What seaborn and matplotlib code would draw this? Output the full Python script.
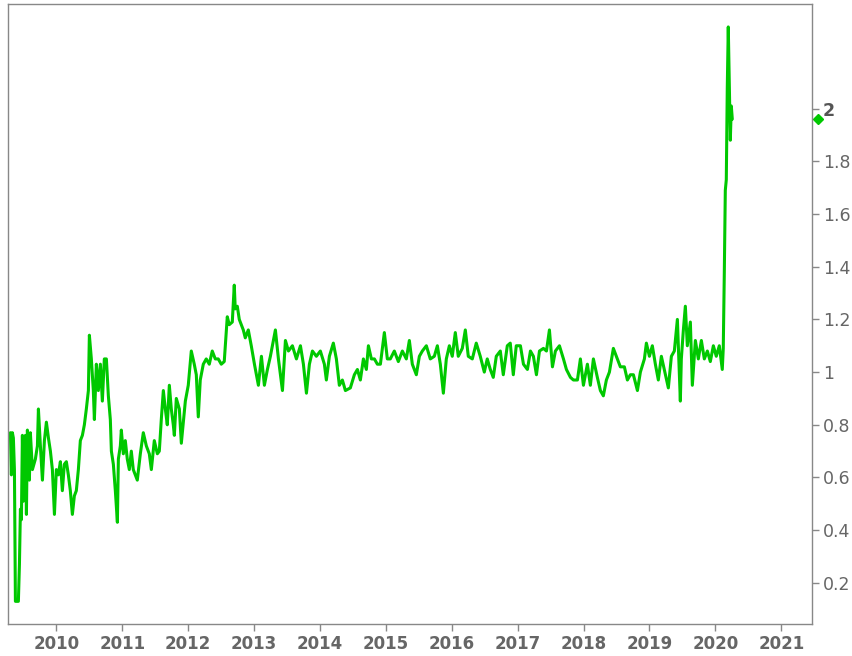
import numpy as np
import pandas as pd
import matplotlib
matplotlib.use("Agg")
import matplotlib.pyplot as plt
import matplotlib.dates as mdates
import matplotlib.transforms as mtransforms
import seaborn as sns

# decimal years and values
years = [
    2009.302, 2009.317, 2009.332, 2009.347, 2009.363, 2009.378, 2009.408, 2009.423, 2009.439, 2009.454,
    2009.469, 2009.484, 2009.499, 2009.530, 2009.545, 2009.560, 2009.590, 2009.605, 2009.636, 2009.681,
    2009.712, 2009.727, 2009.757, 2009.788, 2009.818, 2009.848, 2009.879, 2009.909, 2009.939, 2009.970,
    2010.000, 2010.030, 2010.061, 2010.091, 2010.121, 2010.152, 2010.182, 2010.212, 2010.243, 2010.273,
    2010.303, 2010.334, 2010.364, 2010.395, 2010.425, 2010.455, 2010.486, 2010.501, 2010.531, 2010.561,
    2010.577, 2010.607, 2010.637, 2010.668, 2010.698, 2010.728, 2010.759, 2010.789, 2010.819, 2010.835,
    2010.865, 2010.895, 2010.926, 2010.941, 2010.971, 2010.986, 2011.017, 2011.047, 2011.077, 2011.108,
    2011.138, 2011.168, 2011.229, 2011.275, 2011.320, 2011.366, 2011.411, 2011.442, 2011.487, 2011.533,
    2011.563, 2011.593, 2011.624, 2011.654, 2011.684, 2011.715, 2011.745, 2011.775, 2011.791, 2011.821,
    2011.867, 2011.897, 2011.958, 2012.003, 2012.049, 2012.094, 2012.125, 2012.155, 2012.185, 2012.231,
    2012.276, 2012.322, 2012.367, 2012.413, 2012.458, 2012.504, 2012.549, 2012.595, 2012.625, 2012.671,
    2012.701, 2012.716, 2012.747, 2012.777, 2012.807, 2012.838, 2012.868, 2012.914, 2012.959, 2013.005,
    2013.065, 2013.111, 2013.156, 2013.202, 2013.247, 2013.323, 2013.369, 2013.430, 2013.475, 2013.521,
    2013.581, 2013.642, 2013.703, 2013.748, 2013.794, 2013.839, 2013.885, 2013.945, 2014.006, 2014.067,
    2014.097, 2014.143, 2014.203, 2014.249, 2014.294, 2014.340, 2014.386, 2014.461, 2014.522, 2014.568,
    2014.613, 2014.659, 2014.704, 2014.735, 2014.780, 2014.826, 2014.871, 2014.917, 2014.977, 2015.023,
    2015.068, 2015.129, 2015.190, 2015.251, 2015.311, 2015.357, 2015.402, 2015.463, 2015.509, 2015.554,
    2015.615, 2015.675, 2015.736, 2015.782, 2015.827, 2015.873, 2015.918, 2015.964, 2016.009, 2016.055,
    2016.100, 2016.161, 2016.207, 2016.252, 2016.313, 2016.373, 2016.434, 2016.495, 2016.540, 2016.586,
    2016.631, 2016.677, 2016.738, 2016.783, 2016.844, 2016.889, 2016.935, 2016.980, 2017.041, 2017.087,
    2017.147, 2017.193, 2017.238, 2017.284, 2017.330, 2017.390, 2017.436, 2017.481, 2017.527, 2017.572,
    2017.633, 2017.694, 2017.739, 2017.800, 2017.845, 2017.906, 2017.951, 2017.997, 2018.058, 2018.103,
    2018.149, 2018.209, 2018.255, 2018.300, 2018.346, 2018.392, 2018.452, 2018.513, 2018.558, 2018.619,
    2018.665, 2018.710, 2018.756, 2018.817, 2018.862, 2018.923, 2018.953, 2018.999, 2019.044, 2019.090,
    2019.135, 2019.181, 2019.242, 2019.287, 2019.333, 2019.378, 2019.424, 2019.469, 2019.484, 2019.515,
    2019.545, 2019.575, 2019.621, 2019.651, 2019.697, 2019.742, 2019.788, 2019.833, 2019.879, 2019.924,
    2019.970, 2020.015, 2020.061, 2020.106, 2020.121, 2020.137, 2020.152, 2020.167, 2020.182, 2020.197,
    2020.212, 2020.228, 2020.243, 2020.258,
]
values = [
    0.77, 0.61, 0.77, 0.75, 0.63, 0.13, 0.13, 0.13, 0.27, 0.48,
    0.44, 0.76, 0.51, 0.76, 0.46, 0.78, 0.59, 0.77, 0.63, 0.67,
    0.72, 0.86, 0.72, 0.59, 0.74, 0.81, 0.75, 0.70, 0.63, 0.46,
    0.63, 0.61, 0.66, 0.55, 0.65, 0.66, 0.61, 0.55, 0.46, 0.53,
    0.55, 0.63, 0.74, 0.76, 0.80, 0.86, 0.93, 1.14, 1.05, 0.93,
    0.82, 1.03, 0.93, 1.03, 0.89, 1.05, 1.05, 0.91, 0.82, 0.70,
    0.65, 0.55, 0.43, 0.67, 0.72, 0.78, 0.69, 0.74, 0.67, 0.63,
    0.70, 0.63, 0.59, 0.69, 0.77, 0.72, 0.69, 0.63, 0.74, 0.69,
    0.70, 0.82, 0.93, 0.86, 0.80, 0.95, 0.86, 0.80, 0.76, 0.90,
    0.86, 0.73, 0.89, 0.95, 1.08, 1.03, 0.99, 0.83, 0.97, 1.03,
    1.05, 1.03, 1.08, 1.05, 1.05, 1.03, 1.04, 1.21, 1.18, 1.19,
    1.33, 1.24, 1.25, 1.20, 1.18, 1.16, 1.13, 1.16, 1.10, 1.03,
    0.95, 1.06, 0.95, 1.01, 1.06, 1.16, 1.05, 0.93, 1.12, 1.08,
    1.10, 1.05, 1.10, 1.03, 0.92, 1.03, 1.08, 1.06, 1.08, 1.03,
    0.97, 1.06, 1.11, 1.05, 0.95, 0.97, 0.93, 0.94, 0.99, 1.01,
    0.97, 1.05, 1.01, 1.10, 1.05, 1.05, 1.03, 1.03, 1.15, 1.05,
    1.05, 1.08, 1.04, 1.08, 1.05, 1.12, 1.03, 0.99, 1.06, 1.08,
    1.10, 1.05, 1.06, 1.10, 1.03, 0.92, 1.05, 1.10, 1.06, 1.15,
    1.06, 1.09, 1.16, 1.06, 1.05, 1.11, 1.06, 1.00, 1.05, 1.01,
    0.98, 1.06, 1.08, 0.99, 1.10, 1.11, 0.99, 1.10, 1.10, 1.03,
    1.01, 1.08, 1.06, 0.99, 1.08, 1.09, 1.08, 1.16, 1.02, 1.08,
    1.10, 1.05, 1.01, 0.98, 0.97, 0.97, 1.05, 0.95, 1.03, 0.95,
    1.05, 0.98, 0.93, 0.91, 0.97, 1.00, 1.09, 1.05, 1.02, 1.02,
    0.97, 0.99, 0.99, 0.93, 1.00, 1.05, 1.11, 1.06, 1.10, 1.03,
    0.97, 1.06, 0.99, 0.94, 1.06, 1.08, 1.20, 0.89, 1.05, 1.16,
    1.25, 1.10, 1.19, 0.95, 1.12, 1.05, 1.12, 1.05, 1.08, 1.04,
    1.10, 1.06, 1.10, 1.01, 1.09, 1.38, 1.69, 1.73, 2.08, 2.31,
    2.10, 1.88, 2.01, 1.96,
]
y_ticks = [0.2, 0.4, 0.6, 0.8, 1, 1.2, 1.4, 1.6, 1.8, 2]
last_value = 1.96


def to_date(y):
    yr = int(y)
    return pd.Timestamp(yr, 1, 1) + pd.Timedelta(days=(y - yr) * 365.25)


df = pd.DataFrame({"date": [to_date(y) for y in years], "value": values})

green = "#00c800"
grey = "#888888"
text_grey = "#666666"

sns.set_style("white")
fig = plt.figure(figsize=(8.53, 6.56), dpi=100)
ax = fig.add_axes([8 / 853, 32 / 656, 804 / 853, 620 / 656])

sns.lineplot(data=df, x="date", y="value", color=green, linewidth=2.2, ax=ax)

ax.set_xlim(pd.Timestamp("2009-04-08"), pd.Timestamp("2021-06-20"))
ax.set_ylim(0.044, 2.397)
ax.set_xlabel("")
ax.set_ylabel("")

for s in ax.spines.values():
    s.set_color(grey)
    s.set_linewidth(1)

ax.xaxis.set_major_locator(mdates.YearLocator())
ax.xaxis.set_major_formatter(mdates.DateFormatter("%Y"))
ax.yaxis.tick_right()
ax.set_yticks(y_ticks)
ax.set_yticklabels([f"{t:g}" for t in y_ticks])

ax.tick_params(axis="both", which="major", direction="out", length=5, width=1,
               color=grey, labelcolor=text_grey)
ax.tick_params(axis="y", labelsize=12.5, pad=3)
ax.tick_params(axis="x", labelsize=12, pad=3, bottom=True)
for lbl in ax.get_xticklabels():
    lbl.set_fontweight("bold")
for lbl in ax.get_yticklabels():
    if lbl.get_text() == "2":
        lbl.set_fontweight("bold")
        lbl.set_color("#555555")

# last value marker on the right axis
trans = mtransforms.blended_transform_factory(ax.transAxes, ax.transData)
ax.plot([1.0075], [last_value], marker="D", markersize=5.5, color=green,
        transform=trans, clip_on=False)

fig.savefig("out.png", dpi=100)
